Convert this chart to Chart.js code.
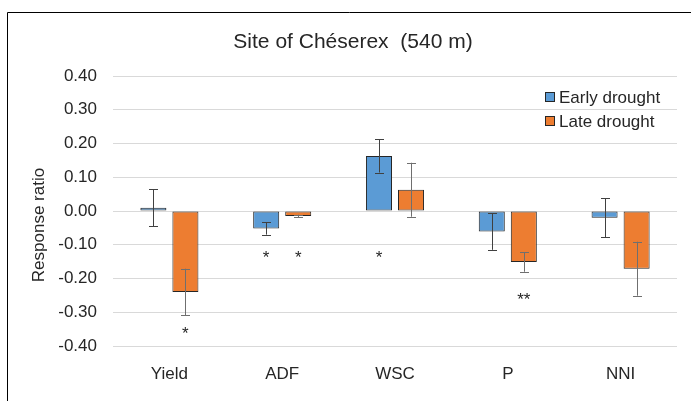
<!DOCTYPE html>
<html>
<head>
<meta charset="utf-8">
<script src="https://cdn.jsdelivr.net/npm/chart.js@4"></script>
<style>
html,body{margin:0;padding:0;background:#fff;}
#wrap{position:relative;width:691px;height:401px;}
canvas{display:block;}
</style>
</head>
<body>
<div id="wrap"><canvas id="c" width="691" height="401"></canvas></div>
<script>
const chartTitle = "Site of Chéserex  (540 m)";
const yAxisTitle = "Response ratio";
const categories = ["Yield", "ADF", "WSC", "P", "NNI"];
const seriesNames = ["Early drought", "Late drought"];
const earlyValues = [0.010, -0.052, 0.163, -0.061, -0.020];
const earlyErrors = [0.055, 0.018, 0.049, 0.054, 0.058];
const lateValues = [-0.240, -0.015, 0.063, -0.151, -0.171];
const lateErrors = [0.069, 0.004, 0.080, 0.029, 0.080];
const earlySig = ["", "*", "*", "", ""];
const lateSig = ["*", "*", "", "**", ""];
const earlySigLevel = [null, -0.125, -0.125, null, null];
const lateSigLevel = [-0.35, -0.125, null, -0.25, null];
const yTicks = [-0.4, -0.3, -0.2, -0.1, 0, 0.1, 0.2, 0.3, 0.4];

const FONT = "'Liberation Sans', Arial, sans-serif";
const TEXT = "#262626";
const colors = ["#5B9BD5", "#ED7D31"];
const errColors = ["#404040", "#6f6f6f"];

const errors = [earlyErrors, lateErrors];
const sigs = [earlySig, lateSig];
const sigLevels = [earlySigLevel, lateSigLevel];

const extras = {
  id: "extras",
  beforeDraw(chart) {
    const ctx = chart.ctx;
    ctx.save();
    ctx.fillStyle = "#fff";
    ctx.fillRect(0, 0, chart.width, chart.height);
    ctx.strokeStyle = "#000";
    ctx.lineWidth = 1;
    ctx.beginPath();
    ctx.moveTo(7.5, chart.height + 2);
    ctx.lineTo(7.5, 12.5);
    ctx.lineTo(chart.width + 2, 12.5);
    ctx.stroke();
    ctx.restore();
  },
  afterDatasetsDraw(chart) {
    const ctx = chart.ctx;
    const y = chart.scales.y;
    ctx.save();
    // error bars
    chart.data.datasets.forEach((ds, i) => {
      const meta = chart.getDatasetMeta(i);
      ctx.strokeStyle = errColors[i];
      ctx.lineWidth = 1;
      meta.data.forEach((bar, j) => {
        const v = ds.data[j], e = errors[i][j];
        const x = Math.round(bar.x) + 0.5;
        const yt = y.getPixelForValue(v + e);
        const yb = y.getPixelForValue(v - e);
        ctx.beginPath();
        ctx.moveTo(x, yt); ctx.lineTo(x, yb);
        ctx.moveTo(x - 4.5, Math.round(yt) + 0.5); ctx.lineTo(x + 4.5, Math.round(yt) + 0.5);
        ctx.moveTo(x - 4.5, Math.round(yb) + 0.5); ctx.lineTo(x + 4.5, Math.round(yb) + 0.5);
        ctx.stroke();
      });
    });
    // significance stars
    ctx.fillStyle = TEXT;
    ctx.font = "17px " + FONT;
    ctx.textAlign = "center";
    ctx.textBaseline = "alphabetic";
    chart.data.datasets.forEach((ds, i) => {
      const meta = chart.getDatasetMeta(i);
      meta.data.forEach((bar, j) => {
        const s = sigs[i][j];
        if (!s) return;
        const py = y.getPixelForValue(sigLevels[i][j]);
        ctx.fillText(s, bar.x, py + 10);
      });
    });
    // title
    ctx.font = "21px " + FONT;
    ctx.textBaseline = "alphabetic";
    ctx.fillText(chartTitle, 353, 48);
    // y axis title
    ctx.save();
    ctx.translate(44, 225);
    ctx.rotate(-Math.PI / 2);
    ctx.font = "17px " + FONT;
    ctx.textAlign = "center";
    ctx.textBaseline = "alphabetic";
    ctx.fillText(yAxisTitle, 0, 0);
    ctx.restore();
    // legend
    ctx.font = "17px " + FONT;
    ctx.textAlign = "left";
    ctx.textBaseline = "middle";
    seriesNames.forEach((name, i) => {
      const cy = 97 + i * 24;
      ctx.fillStyle = colors[i];
      ctx.fillRect(545.5, cy - 4.5, 9, 9);
      ctx.strokeStyle = "#262626";
      ctx.strokeRect(545.5, cy - 4.5, 9, 9);
      ctx.fillStyle = TEXT;
      ctx.fillText(name, 559, cy + 1);
    });
    ctx.restore();
  }
};

new Chart(document.getElementById("c"), {
  type: "bar",
  data: {
    labels: categories,
    datasets: [
      { label: seriesNames[0], data: earlyValues, backgroundColor: colors[0], borderColor: "#262626", borderWidth: 1, borderSkipped: false, categoryPercentage: 0.568, barPercentage: 0.8125 },
      { label: seriesNames[1], data: lateValues, backgroundColor: colors[1], borderColor: "#262626", borderWidth: 1, borderSkipped: false, categoryPercentage: 0.568, barPercentage: 0.8125 }
    ]
  },
  options: {
    responsive: false,
    animation: false,
    events: [],
    layout: { padding: { left: 0, right: 14, top: 76, bottom: 0 } },
    plugins: { legend: { display: false }, title: { display: false }, tooltip: { enabled: false } },
    scales: {
      x: {
        grid: { display: false },
        border: { display: false },
        ticks: { color: TEXT, font: { family: FONT, size: 17 }, padding: 10 },
        afterFit(s) { s.height = 55; }
      },
      y: {
        min: -0.4, max: 0.4,
        afterBuildTicks(s) { s.ticks = yTicks.map(v => ({ value: v })); },
        grid: { color: "#d9d9d9", lineWidth: 1, drawTicks: false },
        border: { display: false },
        ticks: { color: TEXT, font: { family: FONT, size: 17 }, padding: 16, callback: v => Number(v).toFixed(2) },
        afterFit(s) { s.width = 113; }
      }
    }
  },
  plugins: [extras]
});
</script>
</body>
</html>
